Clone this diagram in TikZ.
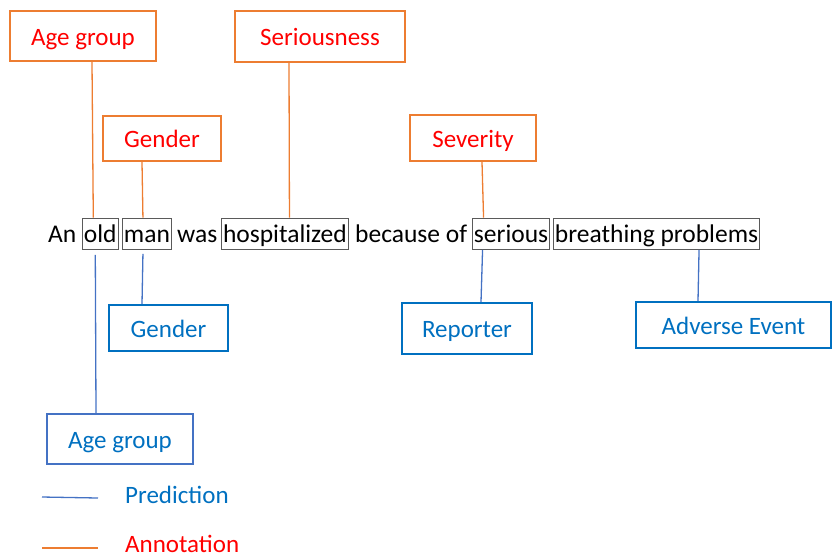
\documentclass[tikz,border=0pt]{standalone}
\usepackage{fontspec}
\setmainfont{Carlito}
\definecolor{ofcorange}{RGB}{237,125,49}
\definecolor{ofcred}{RGB}{255,0,0}
\definecolor{ofcblue}{RGB}{0,112,192}
\definecolor{lnblue}{RGB}{68,114,196}
\definecolor{wordgray}{RGB}{90,90,90}
\tikzset{
  word/.style={anchor=base west, inner xsep=1.5pt, inner ysep=3pt, text height=21pt, text depth=4.5pt, font=\fontsize{25.5}{29}\selectfont, text=black},
  boxword/.style={word, draw=wordgray, line width=0.9pt},
  lbl/.style={line width=2pt, font=\fontsize{25}{29}\selectfont, inner sep=0pt, text height=21pt, text depth=3pt},
  annot/.style={lbl, draw=ofcorange, text=ofcred},
  pred/.style={lbl, draw=ofcblue, text=ofcblue},
  aline/.style={draw=ofcorange, line width=1.3pt},
  pline/.style={draw=lnblue, line width=1.3pt},
  legtext/.style={anchor=west, font=\fontsize{25}{29}\selectfont, inner sep=0pt}
}
\begin{document}
\begin{tikzpicture}[x=1pt,y=-1pt]
\useasboundingbox (0,0) rectangle (832,558);
% sentence
\node[word] (w1) at (46.5,242) {An};
\node[boxword, minimum width=34pt] (old) at (82,242) {old};
\node[boxword, minimum width=48pt] (man) at (122,242) {man};
\node[word] (w4) at (175.5,242) {was};
\node[boxword, minimum width=127pt] (hosp) at (221,242) {hospitalized};
\node[word] (w6) at (353.5,242) {because of};
\node[boxword, minimum width=75pt] (ser) at (472,242) {serious};
\node[boxword, minimum width=205pt] (breath) at (553,242) {breathing problems};
% annotation boxes
\node[annot, minimum width=146pt, minimum height=50pt] (oAge) at (83,36) {Age group};
\node[annot, minimum width=170pt, minimum height=51pt] (oSer) at (320,36.5) {Seriousness};
\node[annot, minimum width=118pt, minimum height=45pt] (oGen) at (162,138.5) {Gender};
\node[annot, minimum width=126pt, minimum height=46pt] (oSev) at (473,138) {Severity};
% prediction boxes
\node[pred, minimum width=119pt, minimum height=46pt] (bGen) at (168.5,328) {Gender};
\node[pred, minimum width=130pt, minimum height=51pt] (bRep) at (467,328.5) {Reporter};
\node[pred, minimum width=195pt, minimum height=46pt] (bAE) at (733.5,325) {Adverse Event};
\node[pred, draw=lnblue, minimum width=146pt, minimum height=50pt] (bAge) at (120,439) {Age group};
% annotation connectors
\draw[aline] ([xshift=9pt]oAge.south) -- ([xshift=-7pt]old.north);
\draw[aline] ([xshift=-20pt]oGen.south) -- ([xshift=-4pt]man.north);
\draw[aline] ([xshift=-31pt]oSer.south) -- ([xshift=4.5pt]hosp.north);
\draw[aline] ([xshift=9pt]oSev.south) -- ([xshift=-27.5pt]ser.north);
% prediction connectors
\draw[pline] ([xshift=-5pt,yshift=-5pt]old.south) -- ([xshift=-24pt]bAge.north);
\draw[pline] ([xshift=-4pt,yshift=-4pt]man.south) -- ([xshift=-26.5pt]bGen.north);
\draw[pline] ([xshift=-28.5pt]ser.south) -- ([xshift=14pt]bRep.north);
\draw[pline] ([xshift=42.5pt]breath.south) -- ([xshift=-35.5pt]bAE.north);
% legend
\node[legtext, text=ofcblue] (lPred) at (125,495) {Prediction};
\node[legtext, text=ofcred] (lAnn) at (125,544) {Annotation};
\coordinate (lp1) at (42,497);
\coordinate (lp2) at (98,498);
\coordinate (la1) at (42,548);
\coordinate (la2) at (98,548);
\draw[pline] (lp1) -- (lp2);
\draw[aline] (la1) -- (la2);
\end{tikzpicture}
\end{document}
